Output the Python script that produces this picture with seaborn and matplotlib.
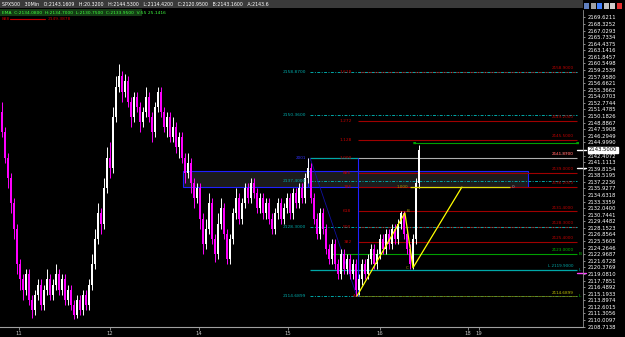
import matplotlib
matplotlib.use("Agg")
import matplotlib.pyplot as plt
from matplotlib.patches import Rectangle
import seaborn as sns
import numpy as np

# ---------------- data ----------------
opens = [2151, 2147, 2142, 2138, 2133, 2128, 2121, 2118, 2116, 2119, 2114, 2112, 2115, 2117, 2113, 2116, 2118, 2115, 2117, 2119,
         2116, 2118, 2114, 2116, 2113, 2111, 2114, 2112, 2115, 2113, 2117, 2121, 2126, 2131, 2129, 2136, 2142, 2140, 2150, 2156,
         2158, 2155, 2157, 2153, 2150, 2154, 2152, 2149, 2151, 2154, 2150, 2147, 2152, 2155, 2151, 2148, 2150, 2146, 2148, 2144,
         2146, 2142, 2139, 2141, 2137, 2134, 2136, 2130, 2125, 2128, 2133, 2126, 2123, 2129, 2132, 2127, 2122, 2126, 2131, 2134,
         2130, 2133, 2136, 2134, 2137, 2135, 2132, 2134, 2131, 2133, 2130, 2128, 2131, 2133, 2130, 2132, 2134, 2131, 2135, 2133,
         2136, 2134, 2138, 2140, 2134, 2130, 2127, 2131, 2128, 2124, 2122, 2125, 2121, 2119, 2123, 2120, 2122, 2119, 2121, 2116,
         2118, 2121, 2119, 2122, 2124, 2121, 2123, 2126, 2124, 2127, 2125, 2128, 2126, 2129, 2131, 2127, 2124, 2121, 2126, 2137]
closes = [2147, 2142, 2138, 2133, 2128, 2121, 2118, 2116, 2119, 2114, 2112, 2115, 2117, 2113, 2116, 2118, 2115, 2117, 2119, 2116,
          2118, 2114, 2116, 2113, 2111, 2114, 2112, 2115, 2113, 2117, 2121, 2126, 2131, 2129, 2136, 2142, 2140, 2150, 2156, 2158,
          2155, 2157, 2153, 2150, 2154, 2152, 2149, 2151, 2154, 2150, 2147, 2152, 2155, 2151, 2148, 2150, 2146, 2148, 2144, 2146,
          2142, 2139, 2141, 2137, 2134, 2136, 2130, 2125, 2128, 2133, 2126, 2123, 2129, 2132, 2127, 2122, 2126, 2131, 2134, 2130,
          2133, 2136, 2134, 2137, 2135, 2132, 2134, 2131, 2133, 2130, 2128, 2131, 2133, 2130, 2132, 2134, 2131, 2135, 2133, 2136,
          2134, 2138, 2140, 2134, 2130, 2127, 2131, 2128, 2124, 2122, 2125, 2121, 2119, 2123, 2120, 2122, 2119, 2121, 2116, 2118,
          2121, 2119, 2122, 2124, 2121, 2123, 2126, 2124, 2127, 2125, 2128, 2126, 2129, 2131, 2127, 2124, 2121, 2126, 2137, 2143.5]
highs = [2153, 2148, 2143, 2139, 2134, 2129, 2122, 2119, 2120, 2120, 2115, 2116, 2118, 2118, 2117, 2120, 2119, 2118, 2121, 2120,
         2119, 2119, 2117, 2117, 2114, 2115, 2115, 2116, 2116, 2118, 2123, 2128, 2133, 2132, 2138, 2144, 2145, 2152, 2158, 2160.5,
         2159, 2158.5, 2158, 2154, 2155, 2155, 2153, 2152, 2156, 2155, 2151, 2153, 2156, 2156, 2152, 2151, 2151, 2150, 2149, 2147,
         2147, 2143, 2143, 2142, 2138, 2137, 2137, 2131, 2130, 2135, 2134, 2127, 2131, 2134, 2133, 2128, 2127, 2132, 2136, 2135,
         2134, 2137, 2137, 2138, 2138, 2136, 2135, 2135, 2134, 2134, 2131, 2132, 2134, 2134, 2133, 2135, 2135, 2136, 2136, 2137,
         2137, 2139, 2141.9, 2141, 2135, 2131, 2132, 2132, 2129, 2125, 2126, 2126, 2122, 2124, 2124, 2123, 2123, 2122, 2122, 2119,
         2122, 2122, 2123, 2125, 2125, 2124, 2127, 2127, 2128, 2128, 2129, 2129, 2130, 2131.5, 2131.5, 2128, 2125, 2127, 2138, 2144.5]
lows = [2146, 2141, 2136, 2131, 2126, 2119, 2116, 2114, 2115, 2113, 2110.5, 2111, 2114, 2112, 2112, 2115, 2114, 2114, 2116, 2115,
        2115, 2113, 2113, 2112, 2110.2, 2110.5, 2111, 2111, 2112, 2112, 2116, 2120, 2125, 2127, 2128, 2135, 2138, 2139, 2149, 2155,
        2153, 2154, 2152, 2148, 2149, 2151, 2147, 2148, 2150, 2149, 2145, 2146, 2151, 2150, 2147, 2146, 2145, 2145, 2143, 2142,
        2141, 2137, 2138, 2135, 2132, 2133, 2128, 2123, 2124, 2127, 2125, 2121.5, 2122, 2128, 2126, 2121, 2121, 2125, 2130, 2129,
        2129, 2132, 2133, 2133, 2134, 2131, 2131, 2130, 2130, 2129, 2127, 2127, 2130, 2129, 2129, 2131, 2130, 2130, 2132, 2132,
        2133, 2133, 2137, 2133, 2129, 2126, 2126, 2127, 2123, 2121, 2121, 2120, 2118, 2118, 2119, 2119, 2118, 2118, 2114.7, 2115,
        2117, 2118, 2118, 2121, 2120, 2120, 2122, 2123, 2123, 2124, 2124, 2125, 2125, 2128, 2126, 2123, 2120, 2120, 2125, 2136]

date_labels = ["11", "12", "14", "15", "16", "18", "19"]
date_pos = [5.7, 36.0, 65.7, 95.3, 126.0, 155.3, 159.0]

fib_names = ["1.618", "1.272", "1.128", "1.000", "886", "786", "618", "500", "382"]
fib_prices = [2158.9, 2149.2, 2145.5, 2141.9, 2139.0, 2136.2, 2131.4, 2128.3, 2125.4]

cyan_prices = [2158.87, 2150.36, 2137.4, 2128.3, 2114.69]
cyan_labels = ["2158.8700", "2150.3600", "2137.4000", "2128.3000", "2114.6899"]

zz_x = [118.3, 134.3, 137.0, 153.3]
zz_y = [2114.7, 2131.1, 2120.3, 2136.2]

last_price = 2143.5

# ---------------- figure ----------------
W, H = 625, 337
sns.set_theme(style="dark")
plt.rcParams['font.family'] = ['DejaVu Sans']
fig = plt.figure(figsize=(W / 100, H / 100), dpi=100, facecolor="black")


def fx(x):
    return x / W


def fy(y):
    return 1 - y / H


ax = fig.add_axes([0, fy(327), fx(583), (327 - 10) / H])
ax.set_facecolor("black")
ax.set_xlim(-0.67, 193.67)
ax.set_ylim(2108.63, 2171.08)
ax.grid(False)

RED = "#a00000"
CYAN = "#00a8a8"

# blue zone rectangle
ax.add_patch(Rectangle((60.3, 2136.2), 115.0, 3.2, facecolor="#1c1c1c", edgecolor="#2020ff", lw=0.8, zorder=1))

# candles
idx = np.arange(len(closes))
for i in idx:
    o, c, h, l = opens[i], closes[i], highs[i], lows[i]
    col = "white" if c >= o else "#ff00ff"
    ax.vlines(i, l, h, color=col, lw=0.7, zorder=3)
    ax.bar(i, max(abs(c - o), 0.2), bottom=min(o, c), width=0.66, color=col, lw=0, zorder=3)

# fib lines
for name, p in zip(fib_names, fib_prices):
    col = "#b0b0b0" if name == "1.000" else RED
    x0 = 102.7 if name == "1.000" else 118.7
    ax.hlines(p, x0, 191.7, color=col, lw=0.8, zorder=2)
    ax.text(116.5, p, name, color="#c00000", fontsize=3.2, ha="right", va="center", zorder=4)
    ax.text(190.5, p + 0.35, f"{p:.4f}", color="#c00000", fontsize=3.0, ha="right", va="bottom", zorder=4)

# cyan dotted lines
for p, lab in zip(cyan_prices, cyan_labels):
    ax.hlines(p, 102.7, 191.7, color=CYAN, lw=0.7, linestyles=(0, (3, 1.5, 1, 1.5)), zorder=2)
    ax.text(101.5, p, lab, color=CYAN, fontsize=3.2, ha="right", va="center", zorder=4)

# other levels
ax.hlines(2144.9, 137.7, 191.7, color="#00a000", lw=0.8, zorder=2)
ax.text(191.7, 2144.9, "■", color="#00a000", fontsize=2.5, ha="center", va="center")
ax.text(137.3, 2144.9, "■", color="#00a000", fontsize=2.5, ha="center", va="center")
ax.hlines(2123.0, 110.0, 191.7, color="#00a000", lw=0.8, zorder=2)
ax.text(192.3, 2123.0, "B", color="#00c000", fontsize=3.2, ha="left", va="center")
ax.text(190.5, 2123.35, "2123.0000", color="#00c000", fontsize=3.0, ha="right", va="bottom")
ax.hlines(2119.9, 102.7, 191.7, color=CYAN, lw=0.9, zorder=2)
ax.text(192.3, 2119.9, "L", color=CYAN, fontsize=3.2, ha="left", va="center")
ax.text(190.5, 2120.25, "L 2119.9000", color=CYAN, fontsize=3.0, ha="right", va="bottom")
ax.hlines(2114.69, 118.7, 191.7, color="#808000", lw=0.5, zorder=2)
ax.text(190.5, 2115.0, "2114.6899", color="#c0c000", fontsize=3.0, ha="right", va="bottom")
ax.text(192.3, 2114.69, "L", color="#00c000", fontsize=3.2, ha="left", va="center")
ax.hlines(2141.9, 102.7, 118.7, color=CYAN, lw=0.8, zorder=2)
ax.text(190.5, 2142.25, "2141.8700", color="#d0d0d0", fontsize=3.0, ha="right", va="bottom")

# blue verticals and diagonal
ax.vlines(118.7, 2114.7, 2141.9, color="#2020ff", lw=0.8, zorder=2)
ax.vlines(102.0, 2136.2, 2141.9, color="#2020ff", lw=0.8, zorder=2)
ax.plot([102.7, 118.3], [2141.9, 2114.7], color="#1010a0", lw=0.6, zorder=2)
ax.text(101.5, 2141.9, "2001", color="#3030ff", fontsize=3.0, ha="right", va="center")

# yellow zig-zag
sns.lineplot(x=zz_x, y=zz_y, sort=False, color="#ffff00", lw=0.9, ax=ax, zorder=5, legend=False)
ax.hlines(2136.2, 136.0, 169.3, color="#e0e000", lw=0.9, zorder=5)
ax.text(170.0, 2136.2, "0", color="#a0a0a0", fontsize=3.2, ha="left", va="center")
ax.text(135.5, 2136.2, "1.000", color="#a0a000", fontsize=3.0, ha="right", va="center")
ax.text(135.0, 2131.5, "B", color="#a0a000", fontsize=3.0, ha="left", va="center")
ax.text(135.5, 2120.2, "C", color="#a0a000", fontsize=3.0, ha="right", va="center")
ax.text(117.8, 2114.7, "A", color="#c00000", fontsize=3.0, ha="right", va="center")

# axes styling (tick label nearest the last price is replaced by the highlighted box)
ax.yaxis.tick_right()
yt = np.arange(2169.6211, 2108.0, -1.2959)
yt = yt[np.abs(yt - last_price) > 0.9]
ax.set_yticks(yt)
ax.set_yticklabels([f"{v:.4f}" for v in yt], color="white", fontsize=3.8)
ax.tick_params(axis="y", length=1.5, width=0.5, color="#c0c0c0", pad=1.5, right=True, left=False)
ax.set_xticks(date_pos)
ax.set_xticklabels(date_labels, color="#c0c0c0", fontsize=3.8)
ax.tick_params(axis="x", length=2, width=0.5, color="#c0c0c0", pad=1, bottom=True)
for s in ["top", "left"]:
    ax.spines[s].set_visible(False)
ax.spines["right"].set_color("#909090")
ax.spines["right"].set_linestyle((0, (1, 1)))
ax.spines["right"].set_linewidth(0.6)
ax.spines["bottom"].set_color("#a0a0a0")
ax.spines["bottom"].set_linewidth(0.8)

# current price marker and side markers
ax.text(1.01, last_price, f"{last_price:.4f}", transform=ax.get_yaxis_transform(), color="black", fontsize=3.8,
        ha="left", va="center", bbox=dict(boxstyle="square,pad=0.15", fc="white", ec="white"), zorder=6)
ax.plot([0.99, 1.005], [2119.3, 2119.3], transform=ax.get_yaxis_transform(), color="#ff40ff", lw=1.0, clip_on=False)
ax.plot([0.99, 1.005], [2139.9, 2139.9], transform=ax.get_yaxis_transform(), color="white", lw=1.0, clip_on=False)
ax.plot([0.99, 1.005], [last_price, last_price], transform=ax.get_yaxis_transform(), color="white", lw=1.0,
        clip_on=False)

# header
fig.patches.append(Rectangle((0, fy(8)), fx(583), 8 / H, transform=fig.transFigure, facecolor="#3a3a3a",
                             edgecolor="none", zorder=10))
fig.text(fx(2), fy(4), "SPX500   30Min   O:2143.1609   H:20.3200   H:2144.5300   L:2114.4200   C:2120.9500"
         "   B:2143.1600   A:2143.6", color="white", fontsize=3.4, va="center", ha="left", zorder=11)
fig.patches.append(Rectangle((0, fy(16)), fx(142), 7 / H, transform=fig.transFigure, facecolor="#143c14",
                             edgecolor="none", zorder=10))
fig.text(fx(2), fy(12.5), "EMA  C:2134.0800  H:2134.7000  L:2130.7500  C:2133.9500  V:55 25.1416",
         color="#40ff40", fontsize=3.2, va="center", ha="left", zorder=11)
fig.text(fx(2), fy(19), "888", color="#c00000", fontsize=3.2, va="center", ha="left", zorder=11)
fig.lines.append(plt.Line2D([fx(10), fx(45)], [fy(19), fy(19)], transform=fig.transFigure, color="#c00000",
                            lw=0.8, zorder=11))
fig.text(fx(48), fy(19), "2149.3878", color="#c00000", fontsize=3.2, va="center", ha="left", zorder=11)

# window buttons top right
for k, col in enumerate(["#6080c0", "#a0a0a0", "#4080ff", "#c0c0c0", "#d0d0d0", "#e03030"]):
    fig.patches.append(Rectangle((fx(584 + k * 6.5), fy(9)), fx(5), 6 / H, transform=fig.transFigure,
                                 facecolor=col, edgecolor="none", zorder=10))

fig.savefig("out.png", dpi=100, facecolor="black")
